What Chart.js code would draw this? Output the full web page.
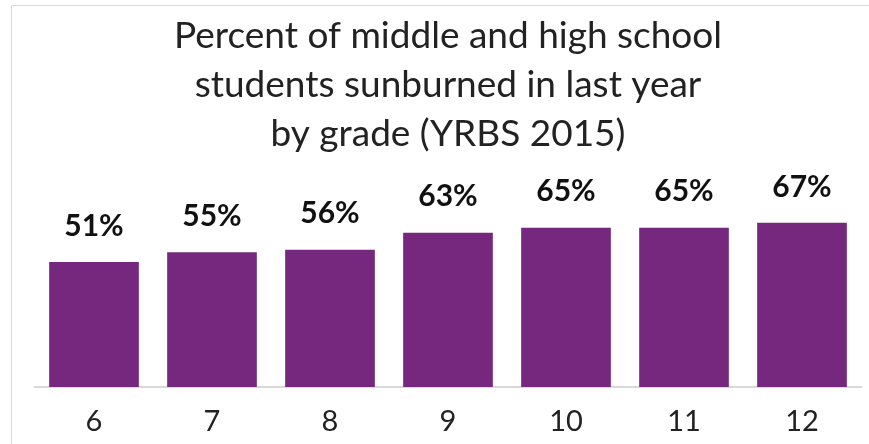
<!DOCTYPE html>
<html>
<head>
<meta charset="utf-8">
<script src="https://cdn.jsdelivr.net/npm/chart.js@4"></script>
<style>
  body { margin: 0; background: #fff; }
  #wrap { width: 869px; height: 444px; }
</style>
</head>
<body>
<div id="wrap"><canvas id="grafico"></canvas></div>
<script>
// dados
const grades = ['6', '7', '8', '9', '10', '11', '12'];
const sunburned = [51, 55, 56, 63, 65, 65, 67];
const titleLines = ['Percent of middle and high school', 'students sunburned in last year', 'by grade (YRBS 2015)'];

const fonte = 'Lato, "Open Sans", sans-serif';

// plugin simples para escrever o valor em cima de cada barra
const rotulos = {
  id: 'rotulos',
  afterDatasetsDraw(chart) {
    const ctx = chart.ctx;
    const meta = chart.getDatasetMeta(0);
    ctx.save();
    ctx.font = 'bold 30px ' + fonte;
    ctx.fillStyle = '#111';
    ctx.textAlign = 'center';
    ctx.textBaseline = 'middle';
    meta.data.forEach(function (bar, i) {
      ctx.fillText(sunburned[i] + '%', bar.x, bar.y - 36);
    });
    ctx.restore();
  }
};

// moldura cinza clara em volta do gráfico
const moldura = {
  id: 'moldura',
  beforeDraw(chart) {
    const ctx = chart.ctx;
    ctx.save();
    ctx.strokeStyle = '#d9d9d9';
    ctx.lineWidth = 1;
    ctx.strokeRect(11.5, 5.5, chart.width, chart.height);
    ctx.restore();
  }
};

new Chart(document.getElementById('grafico'), {
  type: 'bar',
  data: {
    labels: grades,
    datasets: [{
      data: sunburned,
      backgroundColor: '#76287e',
      barPercentage: 0.76,
      categoryPercentage: 1
    }]
  },
  options: {
    responsive: true,
    maintainAspectRatio: false,
    animation: false,
    layout: { padding: { left: 35, right: 8, bottom: 0 } },
    plugins: {
      legend: { display: false },
      tooltip: { enabled: false },
      title: {
        display: true,
        text: titleLines,
        color: '#222',
        font: { family: fonte, size: 37, weight: 'normal', lineHeight: 1.32 },
        padding: { top: 12, bottom: 8 }
      }
    },
    scales: {
      x: {
        grid: { display: false },
        border: { display: true, color: '#d9d9d9', width: 2 },
        ticks: { color: '#222', font: { family: fonte, size: 29 }, padding: 9 },
        afterFit(axis) { axis.height = 57; }
      },
      y: {
        display: false,
        min: 0,
        max: 90
      }
    }
  },
  plugins: [rotulos, moldura]
});
</script>
</body>
</html>
